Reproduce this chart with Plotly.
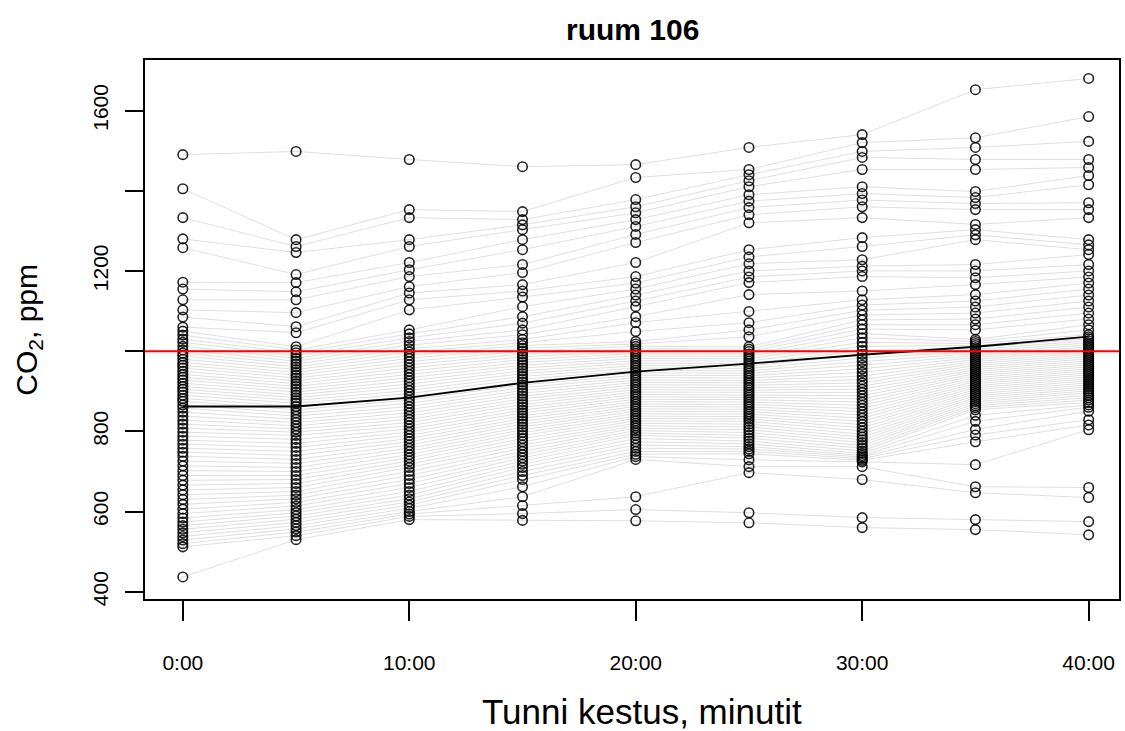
import plotly.graph_objects as go

# minutes into the lesson
minutes = [0, 5, 10, 15, 20, 25, 30, 35, 40]

# CO2 readings (ppm) per lesson, one list per time point (lesson i = index i)
co2_00 = [1490, 1405, 1333, 1280, 1258, 1172, 1155, 1128, 1103, 1085,
          1060, 1050, 1040, 1030, 1022, 1012, 1003, 995, 988, 980,
          972, 965, 958, 950, 942, 935, 928, 920, 912, 905,
          898, 890, 882, 875, 866, 858, 848, 838, 828, 818,
          808, 798, 788, 778, 768, 758, 748, 738, 726, 714,
          702, 690, 678, 666, 654, 642, 630, 618, 606, 595,
          584, 574, 565, 556, 547, 538, 529, 520, 512, 437]
co2_05 = [1498, 1278, 1261, 1246, 1191, 1171, 1148, 1128, 1096, 1061,
          1046, 1011, 1003, 996, 989, 982, 975, 968, 961, 954,
          947, 940, 933, 926, 919, 912, 905, 898, 891, 884,
          877, 870, 862, 854, 846, 838, 830, 822, 814, 806,
          798, 790, 780, 770, 760, 750, 740, 730, 720, 710,
          700, 690, 680, 670, 660, 650, 641, 632, 623, 614,
          605, 597, 589, 581, 573, 565, 557, 549, 540, 530]
co2_10 = [1478, 1353, 1333, 1278, 1261, 1221, 1203, 1186, 1161, 1145,
          1128, 1103, 1053, 1043, 1033, 1024, 1015, 1006, 998, 990,
          982, 974, 966, 958, 950, 942, 934, 926, 918, 910,
          902, 894, 886, 878, 870, 862, 854, 846, 838, 830,
          822, 814, 806, 798, 790, 782, 774, 766, 758, 750,
          742, 734, 726, 718, 710, 700, 690, 680, 670, 660,
          650, 641, 632, 624, 616, 608, 600, 594, 588, 580]
co2_15 = [1460, 1348, 1328, 1315, 1303, 1278, 1253, 1216, 1196, 1166,
          1150, 1135, 1111, 1086, 1070, 1053, 1041, 1029, 1021, 1014,
          1007, 1000, 993, 986, 979, 972, 965, 958, 951, 944,
          937, 930, 923, 916, 909, 902, 895, 888, 881, 874,
          867, 860, 853, 846, 839, 832, 825, 818, 811, 804,
          797, 790, 782, 774, 766, 758, 750, 742, 734, 726,
          718, 710, 700, 690, 680, 662, 637, 615, 595, 578]
co2_20 = [1465, 1433, 1378, 1360, 1345, 1328, 1311, 1291, 1271, 1221,
          1186, 1170, 1155, 1140, 1125, 1111, 1086, 1071, 1049, 1024,
          1018, 1012, 1006, 1000, 994, 988, 982, 976, 970, 964,
          958, 952, 946, 940, 934, 928, 922, 916, 910, 904,
          898, 892, 886, 880, 874, 868, 862, 856, 850, 844,
          838, 832, 826, 820, 814, 808, 802, 796, 790, 782,
          774, 766, 758, 750, 743, 737, 730, 637, 605, 577]
co2_25 = [1508, 1453, 1440, 1425, 1410, 1390, 1374, 1358, 1340, 1320,
          1253, 1235, 1218, 1200, 1185, 1171, 1141, 1099, 1071, 1053,
          1036, 1011, 1005, 999, 993, 987, 981, 975, 969, 963,
          957, 951, 945, 939, 933, 927, 921, 915, 909, 903,
          897, 891, 885, 879, 873, 867, 861, 855, 849, 843,
          837, 831, 825, 818, 811, 804, 797, 790, 783, 776,
          769, 762, 756, 750, 744, 729, 712, 697, 597, 572]
co2_30 = [1540, 1520, 1498, 1483, 1453, 1410, 1393, 1377, 1360, 1333,
          1283, 1261, 1228, 1212, 1200, 1186, 1150, 1128, 1115, 1102,
          1090, 1078, 1066, 1055, 1044, 1033, 1022, 1012, 1002, 992,
          983, 974, 965, 956, 947, 938, 929, 921, 913, 905,
          897, 889, 881, 873, 865, 857, 849, 841, 833, 825,
          817, 809, 801, 793, 786, 779, 772, 765, 758, 751,
          745, 740, 736, 732, 728, 724, 712, 680, 585, 560]
co2_35 = [1652, 1532, 1508, 1478, 1453, 1398, 1383, 1368, 1353, 1316,
          1303, 1290, 1278, 1216, 1200, 1183, 1166, 1141, 1125, 1110,
          1095, 1080, 1066, 1053, 1029, 1024, 1019, 1014, 1009, 1004,
          999, 994, 989, 984, 979, 974, 969, 964, 959, 954,
          949, 944, 939, 934, 929, 924, 919, 914, 909, 904,
          899, 894, 889, 884, 879, 874, 869, 864, 859, 854,
          840, 825, 805, 791, 774, 717, 662, 647, 580, 555]
co2_40 = [1680, 1585, 1523, 1478, 1458, 1438, 1415, 1370, 1353, 1333,
          1278, 1265, 1253, 1241, 1216, 1200, 1185, 1170, 1155, 1140,
          1125, 1110, 1095, 1080, 1066, 1053, 1041, 1036, 1031, 1026,
          1021, 1016, 1011, 1006, 1001, 996, 991, 986, 981, 976,
          971, 966, 961, 956, 951, 946, 941, 936, 931, 926,
          921, 916, 911, 906, 901, 896, 890, 884, 878, 872,
          866, 860, 850, 829, 816, 804, 660, 635, 575, 542]

# average curve
mean_co2 = [862, 862, 884, 921, 949, 969, 991, 1011, 1036]

limit_ppm = 1000
x_tick_vals = [0, 10, 20, 30, 40]
x_tick_text = ["0:00", "10:00", "20:00", "30:00", "40:00"]
y_tick_vals = [400, 600, 800, 1200, 1600]
y_tick_text = ["400", "600", "800", "1200", "1600"]
y_unlabelled_ticks = [1000, 1400]

columns = [co2_00, co2_05, co2_10, co2_15, co2_20, co2_25, co2_30, co2_35, co2_40]
n_lessons = len(co2_00)

line_x, line_y = [], []
for i in range(n_lessons):
    for m, col in zip(minutes, columns):
        line_x.append(m)
        line_y.append(col[i])
    line_x.append(None)
    line_y.append(None)

pts_x, pts_y = [], []
for m, col in zip(minutes, columns):
    pts_x.extend([m] * len(col))
    pts_y.extend(col)

FONT = "Liberation Sans, Arial, sans-serif"

fig = go.Figure()
fig.add_trace(go.Scatter(x=line_x, y=line_y, mode="lines",
                         line=dict(color="rgba(0,0,0,0.13)", width=1),
                         hoverinfo="skip", showlegend=False))
fig.add_trace(go.Scatter(x=pts_x, y=pts_y, mode="markers",
                         marker=dict(symbol="circle-open", size=9.5,
                                     color="rgba(0,0,0,0.85)",
                                     line=dict(width=1.6, color="rgba(0,0,0,0.85)")),
                         showlegend=False))
fig.add_trace(go.Scatter(x=minutes, y=mean_co2, mode="lines",
                         line=dict(color="black", width=1.8),
                         showlegend=False))

fig.add_shape(type="line", xref="paper", x0=0, x1=1, yref="y",
              y0=limit_ppm, y1=limit_ppm, line=dict(color="#ff0000", width=2),
              layer="above")

fig.update_layout(
    width=1125, height=731,
    margin=dict(l=145, r=4, t=60, b=132),
    plot_bgcolor="white", paper_bgcolor="white",
    font=dict(family=FONT, color="black"),
    xaxis=dict(range=[-1.67, 41.34], tickvals=x_tick_vals, ticktext=x_tick_text,
               showgrid=False, zeroline=False, showline=True, mirror=True,
               linecolor="black", linewidth=1.5, ticks="outside", ticklen=20,
               tickwidth=1.5, tickcolor="black", tickfont=dict(size=21),
               ticklabelstandoff=24),
    yaxis=dict(range=[382, 1726], tickvals=y_tick_vals, ticktext=y_tick_text,
               showgrid=False, zeroline=False, showline=True, mirror=True,
               linecolor="black", linewidth=1.5, ticks="outside", ticklen=18,
               tickwidth=1.5, tickcolor="black", tickfont=dict(size=21),
               tickangle=-90, ticklabelstandoff=9,
               minor=dict(tickvals=y_unlabelled_ticks, ticks="outside", ticklen=18,
                          tickwidth=1.5, tickcolor="black", showgrid=False)),
    annotations=[
        dict(text="<b>ruum 106</b>", xref="paper", yref="paper", x=0.5, y=1.0557,
             showarrow=False, xanchor="center", yanchor="middle",
             font=dict(size=30, family=FONT)),
        dict(text="Tunni kestus, minutit", xref="paper", yref="paper",
             x=0.51, y=-0.2096, showarrow=False, xanchor="center", yanchor="middle",
             font=dict(size=35, family=FONT)),
        dict(text="CO<sub>2</sub>, ppm", xref="paper", yref="paper",
             x=-0.1199, y=0.5, showarrow=False, xanchor="center", yanchor="middle",
             textangle=-90, font=dict(size=30, family=FONT)),
    ],
)

fig.write_html("out.html")
